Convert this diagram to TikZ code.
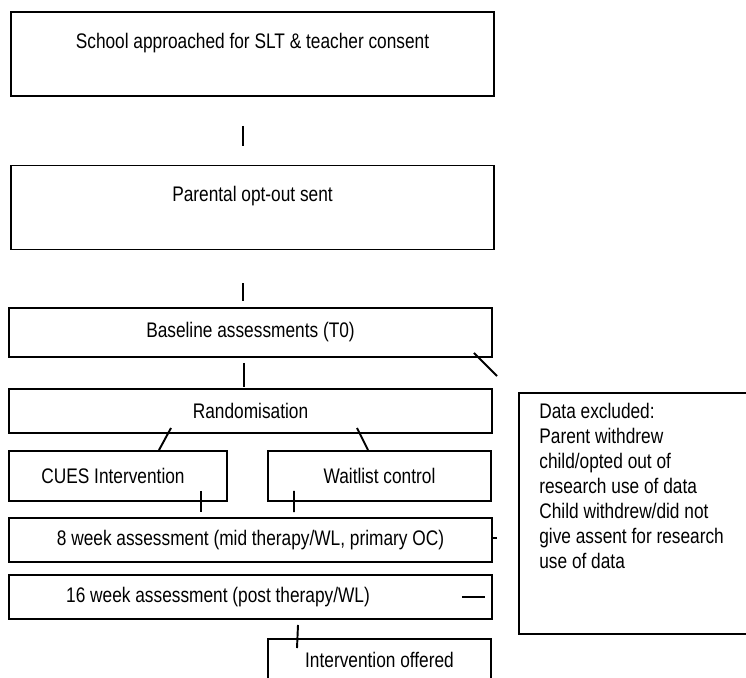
\documentclass[tikz,border=0pt]{standalone}
\usepackage{fontspec}
\setmainfont{Liberation Sans}[FakeStretch=0.82]

\begin{document}
\begin{tikzpicture}[x=0.02cm, y=-0.02cm, every node/.style={font=\fontsize{12}{14.2}\selectfont},
		box/.style={draw, line width=1.1pt, inner sep=0pt, align=center},
		wide/.style={box, minimum width=9.66cm, minimum height=0.88cm},
		tall/.style={box, minimum width=9.66cm, text height=0.72cm, text depth=0.96cm},
		half/.style={box, minimum width=4.36cm, minimum height=1cm},
		link/.style={line width=1.1pt}]
	\useasboundingbox (0,0) rectangle (746,677);
	\clip (0,0) rectangle (746,677);
	% main column
	\node[tall] (school) at (252.5,54) {School approached for SLT \& teacher consent};
	\node[tall] (optout) at (252.5,207.5) {Parental opt-out sent};
	\node[wide, minimum height=0.98cm] (baseline) at (250.5,332.5) {Baseline assessments (T0)};
	\node[wide] (random) at (250.5,411) {Randomisation};
	\node[half] (cues) at (118,476) {CUES Intervention\hspace*{0.2cm}};
	\node[half, minimum width=4.46cm] (waitlist) at (379.5,476) {Waitlist control};
	\node[wide] (week8) at (250.5,540) {8 week assessment (mid therapy/WL, primary OC)};
	\node[wide] (week16) at (250.5,597) {16 week assessment (post therapy/WL)\hspace*{1.3cm}};
	\node[box, minimum width=4.46cm, text height=0.58cm, text depth=0.7cm, anchor=north] (offered) at (379.5,638) {Intervention offered};
	% exclusions
	\node[box, minimum width=4.84cm, minimum height=4.82cm, anchor=north west,
		label={[anchor=north west, align=left, inner sep=0pt, xshift=0.42cm, yshift=-0.22cm]north west:Data excluded:\\Parent withdrew\\child/opted out of\\research use of data\\Child withdrew/did not\\give assent for research\\use of data}] (excl) at (518,392) {};
	% connectors
	\draw[link] ([shift={(-9.5,29)}]school.south) -- ([shift={(-9.5,-19)}]optout.north);
	\draw[link] ([shift={(-9.5,33)}]optout.south) -- ([shift={(-7.5,-6)}]baseline.north);
	\draw[link] ([shift={(-19,-5)}]baseline.south east) -- ([shift={(-21,-16)}]excl.north west);
	\draw[link] ([shift={(-6.5,5)}]baseline.south) -- ([shift={(-6.5,-1)}]random.north);
	\draw[link] ([shift={(-79.5,-6)}]random.south) -- ([shift={(41,0)}]cues.north);
	\draw[link] ([shift={(106.5,-6)}]random.south) -- ([shift={(-11.5,0)}]waitlist.north);
	\draw[link] ([shift={(83,-11)}]cues.south) -- ([shift={(-49.5,-5)}]week8.north);
	\draw[link] ([shift={(-85.5,-11)}]waitlist.south) -- ([shift={(43.5,-5)}]week8.north);
	\draw[link, shorten >=0.42cm] ([yshift=0.04cm]week8.east) -- ([yshift=0.04cm]week8.east -| excl.west);
	\draw[link] ([shift={(-31,0)}]week16.east) -- ([shift={(-8,0)}]week16.east);
	\draw[link] ([shift={(47.5,5)}]week16.south) -- ([shift={(-82.5,10)}]offered.north);
\end{tikzpicture}
\end{document}
